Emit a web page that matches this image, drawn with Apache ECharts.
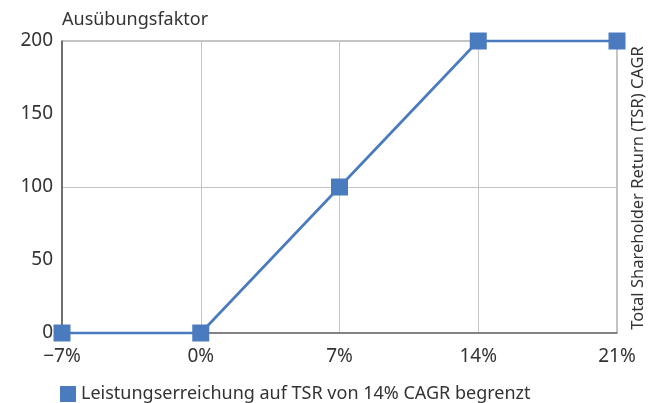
<!DOCTYPE html>
<html><head><meta charset="utf-8">
<script src="https://cdn.jsdelivr.net/npm/echarts@6/dist/echarts.min.js"></script>
<style>html,body{margin:0;padding:0;background:#fff}#c{width:648px;height:403px}</style>
</head><body><div id="c"></div>
<script>
const xValues = [-7, 0, 7, 14, 21];
const yValues = [0, 0, 100, 200, 200];
const seriesName = 'Leistungserreichung auf TSR von 14% CAGR begrenzt';
const yTitle = 'Ausübungsfaktor';
const xTitle = 'Total Shareholder Return (TSR) CAGR';
const FONT = 'Noto Sans';
const TXT = '#333';
const BLUE = '#4a7bbf';
const chart = echarts.init(document.getElementById('c'));
chart.setOption({
  animation: false,
  textStyle: {fontFamily: FONT},
  grid: {left: 62, right: 31, top: 41, bottom: 70, show: true, borderColor: '#8a8a8a', borderWidth: 1},
  title: {text: yTitle, left: 57, top: 6, textStyle: {fontFamily: FONT, fontSize: 18, fontWeight: 'normal', color: TXT}},
  graphic: [{type: 'text', x: 630, y: 188, rotation: Math.PI/2,
    style: {text: xTitle, font: '16.5px "Noto Sans"', fill: TXT, align: 'center', verticalAlign: 'top'}}],
  legend: {left: 55, bottom: -5, icon: 'rect', itemWidth: 16, itemHeight: 16, itemGap: 10,
    textStyle: {fontFamily: FONT, fontSize: 18, color: TXT}, data: [seriesName]},
  xAxis: {type: 'value', min: -7, max: 21, interval: 7,
    axisLine: {show: true, lineStyle: {color: '#6e6e6e', width: 1.5}}, axisTick: {show: false},
    splitLine: {show: true, lineStyle: {color: '#c4c4c4', width: 1}},
    axisLabel: {fontFamily: FONT, fontSize: 19, color: TXT, margin: 14,
      formatter: v => (v < 0 ? '\u2212' + Math.abs(v) : v) + '%'}},
  yAxis: [{type: 'value', min: 0, max: 200, interval: 50,
    axisLine: {show: true, onZero: false, lineStyle: {color: '#555', width: 1.5}}, axisTick: {show: false},
    splitLine: {show: false},
    axisLabel: {fontFamily: FONT, fontSize: 19, color: TXT, margin: 9}},
    {type: 'value', min: 0, max: 200, interval: 100, position: 'left',
    axisLine: {show: false}, axisTick: {show: false}, axisLabel: {show: false},
    splitLine: {show: true, lineStyle: {color: '#c4c4c4', width: 1}}}],
  series: [{name: seriesName, type: 'line', data: xValues.map((x, i) => [x, yValues[i]]),
    symbol: 'rect', symbolSize: 17, clip: false,
    lineStyle: {color: BLUE, width: 2.7}, itemStyle: {color: BLUE}, z: 5}]
});
</script></body></html>
